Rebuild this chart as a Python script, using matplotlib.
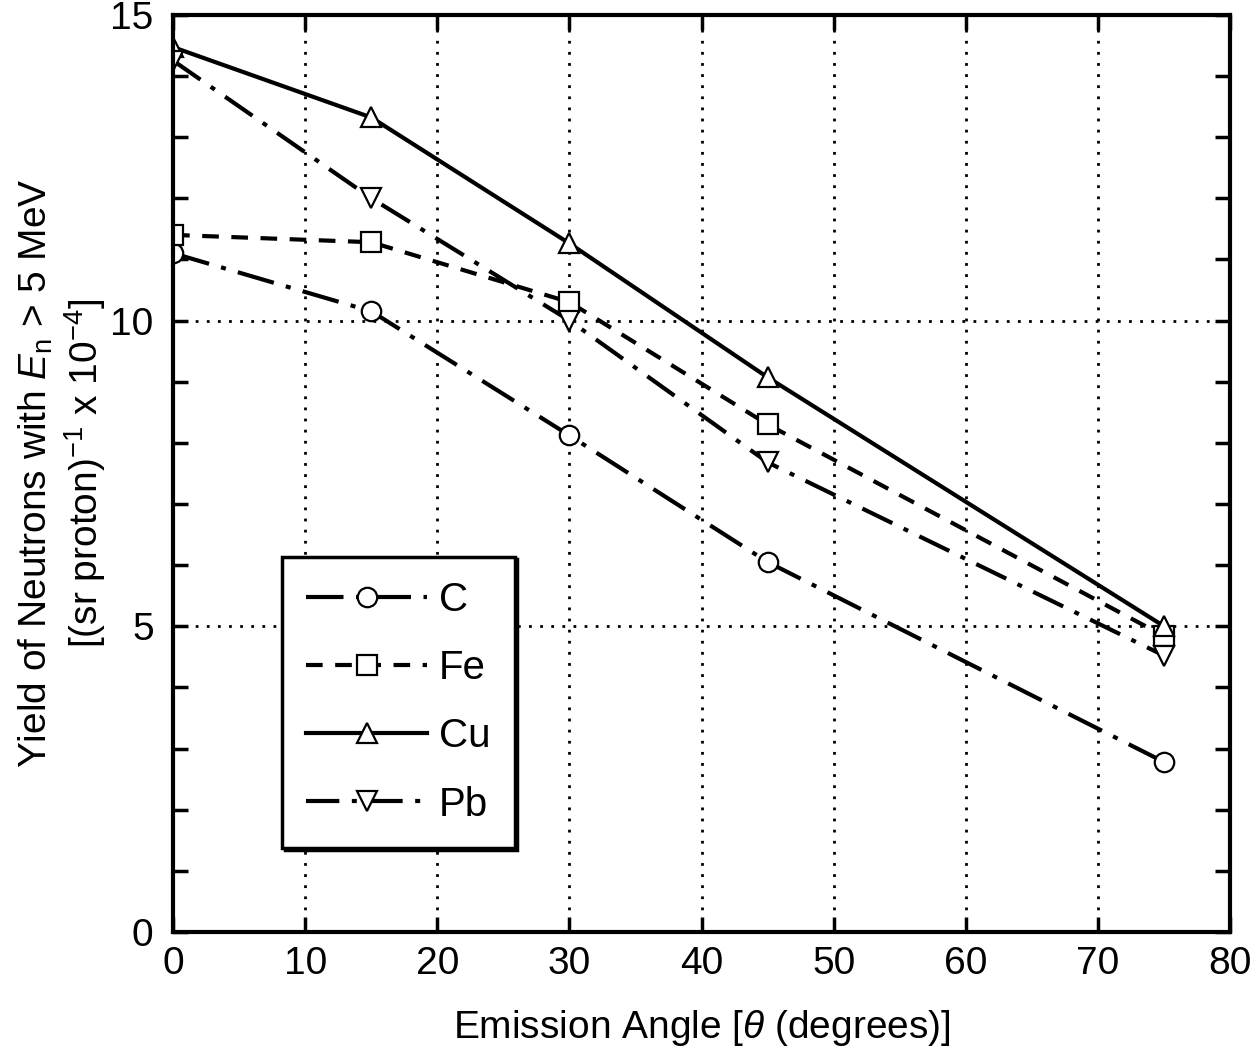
import matplotlib.pyplot as plt
from matplotlib.ticker import MultipleLocator

plt.rcParams['font.family'] = ['Liberation Sans', 'DejaVu Sans']
plt.rcParams['mathtext.fontset'] = 'custom'
plt.rcParams['mathtext.rm'] = 'Liberation Sans'
plt.rcParams['mathtext.it'] = 'Liberation Sans:italic'

# Emission angle (degrees) and neutron yields (x 1e-4 per sr per proton)
angle = [0, 15, 30, 45, 75]
yield_c = [11.1, 10.15, 8.12, 6.05, 2.78]
yield_fe = [11.4, 11.28, 10.3, 8.3, 4.84]
yield_cu = [14.47, 13.32, 11.26, 9.07, 5.0]
yield_pb = [14.25, 12.0, 10.0, 7.68, 4.52]

fig = plt.figure(figsize=(12.54, 10.52), dpi=100)
ax = fig.add_axes([0.138, 0.114, 0.843, 0.872])

mk = dict(markersize=14, markerfacecolor='white', markeredgecolor='black',
          markeredgewidth=1.6, color='black', linewidth=3)
ax.plot(angle, yield_c, marker='o', linestyle=(0, (9, 3, 1.2, 3)), label='C', **mk)
ax.plot(angle, yield_fe, marker='s', linestyle=(0, (4, 3)), label='Fe', **mk)
ax.plot(angle, yield_cu, marker='^', linestyle='-', label='Cu', **mk)
ax.plot(angle, yield_pb, marker='v', linestyle=(0, (8, 3, 1.2, 3)), label='Pb', **mk)

ax.set_xlim(0, 80)
ax.set_ylim(0, 15)
ax.xaxis.set_major_locator(MultipleLocator(10))
ax.yaxis.set_major_locator(MultipleLocator(5))
ax.yaxis.set_minor_locator(MultipleLocator(1))
ax.tick_params(which='both', direction='in', top=True, right=True,
               length=11, width=2.5, labelsize=28)
ax.tick_params(axis='x', pad=10)
ax.tick_params(axis='y', pad=14)
for s in ax.spines.values():
    s.set_linewidth(3)

for gx in range(10, 80, 10):
    ax.axvline(gx, color='black', linestyle=(0, (1, 3)), linewidth=2, zorder=0)
for gy in (5, 10):
    ax.axhline(gy, color='black', linestyle=(0, (1, 3)), linewidth=2, zorder=0)

ax.set_xlabel(r'Emission Angle [$\theta$ (degrees)]', fontsize=28, labelpad=19)
ax.set_ylabel('Yield of Neutrons with $\\mathit{E}_{\\mathrm{n}}$ > 5 MeV\n'
              '[(sr proton)$^{-1}$ x 10$^{-4}$]', fontsize=28, labelpad=2,
              linespacing=1.2)

leg = ax.legend(loc='lower left', bbox_to_anchor=(0.103, 0.092), fontsize=29,
                handlelength=3.0, handletextpad=0.3, numpoints=1,
                fancybox=False, framealpha=1, edgecolor='black',
                borderpad=0.6, labelspacing=0.75, borderaxespad=0,
                shadow={'color': 'black', 'alpha': 1})
leg.get_frame().set_linewidth(2.5)

fig.savefig('out.png', dpi=100)
